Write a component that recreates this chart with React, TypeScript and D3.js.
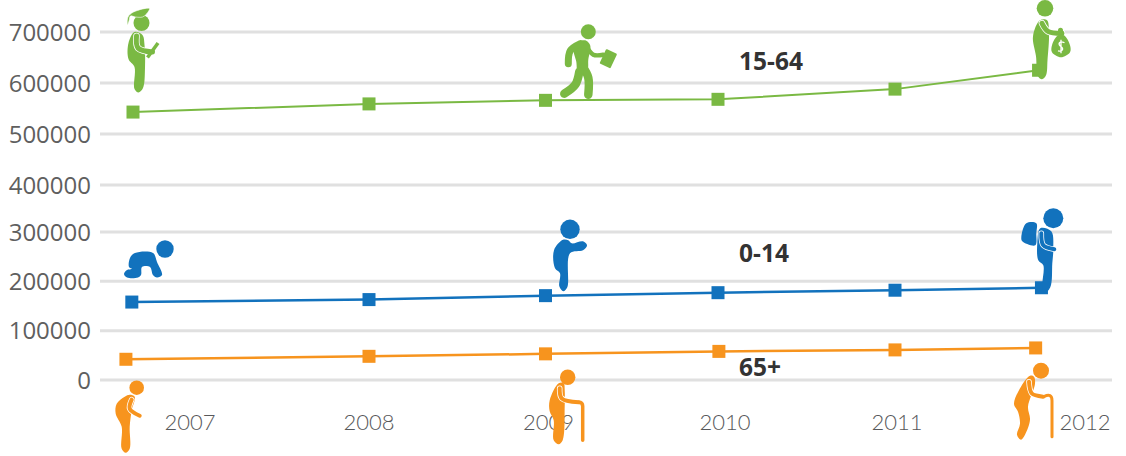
import * as d3 from "d3";

const years = [2007, 2008, 2009, 2010, 2011, 2012];
const yTicks = [0, 100000, 200000, 300000, 400000, 500000, 600000, 700000];

// the markers do not sit on quite the same x in each series, so each one keeps its own year readings
const greenYears = [2007, 2008, 2009, 2010, 2011, 2011.99];
const blueYears = [2006.995, 2008, 2009, 2010, 2011, 2012.01];
const orangeYears = [2006.97, 2008, 2009, 2010.005, 2011, 2011.97];

const greenValues = [543000, 559000, 566000, 568000, 588000, 625000];
const blueValues = [158000, 163000, 171000, 177000, 182000, 187000];
const orangeValues = [42000, 48000, 53000, 58000, 61000, 65000];

const seriesLabels = ["15-64", "0-14", "65+"];

const GREEN = "#7ab943";
const BLUE = "#1272bd";
const ORANGE = "#f7941e";

const width = 1126;
const height = 456;

const x = d3.scaleLinear().domain(years).range([133, 369, 545.5, 718, 895, 1040]);
const y = d3
  .scaleLinear()
  .domain([0, 300000, 400000, 700000])
  .range([380, 232, 185, 32]);

const labelNudge = [57, 0, 3, 7, 2, 45];
const seriesLabelY = [70, 262, 376];

type Pt = [number, number];

const blob = d3
  .line<Pt>()
  .curve(d3.curveCatmullRomClosed.alpha(0.5));
const stroke = d3.line<Pt>().curve(d3.curveCatmullRom.alpha(0.5));

function Limb({ pts, color, w = 5 }: { pts: Pt[]; color: string; w?: number }) {
  return (
    <>
      <path d={stroke(pts) ?? undefined} fill="none" stroke="#fff" strokeWidth={w + 1.6} strokeLinecap="round" />
      <path d={stroke(pts) ?? undefined} fill="none" stroke={color} strokeWidth={w} strokeLinecap="round" />
    </>
  );
}

function Graduate({ at }: { at: Pt }) {
  const c = GREEN;
  const body: Pt[] = [[-7, 9], [-13, 20], [-13, 36], [-7, 44], [-7, 66], [-3, 69.5], [1.5, 65], [3.5, 45], [3, 22], [1, 12]];
  const cap: Pt[] = [[-14, 2], [-13.5, -6], [-8, -11], [8, -14.5], [5, -9], [1, -6], [-6, -6], [-11, -7], [-12.5, -2]];
  return (
    <g transform={`translate(${at})`}>
      <path d={blob(body) ?? undefined} fill={c} />
      <Limb pts={[[-5, 13], [-3.5, 25], [11, 29]]} color={c} />
      <line x1={6} y1={34.5} x2={16.5} y2={20} stroke={c} strokeWidth={3.5} />
      <circle r={8} fill={c} />
      <path d={blob(cap) ?? undefined} fill={c} stroke="#fff" strokeWidth={0.6} />
    </g>
  );
}

function Walker({ at }: { at: Pt }) {
  const c = GREEN;
  const torso: Pt[] = [[-7, 9], [-15, 14], [-12, 30], [-10, 42], [-1, 38], [0, 28], [2, 14], [-2, 9]];
  return (
    <g transform={`translate(${at})`}>
      <circle r={7.5} fill={c} />
      <path d={blob(torso) ?? undefined} fill={c} />
      <path d={stroke([[-8, 12], [-18, 19], [-20, 32]]) ?? undefined} fill="none" stroke={c} strokeWidth={7} strokeLinecap="round" />
      <path d={stroke([[-5, 36], [0, 46], [0, 63]]) ?? undefined} fill="none" stroke={c} strokeWidth={8.5} strokeLinecap="round" />
      <path d={stroke([[-9, 40], [-13, 53], [-24, 62]]) ?? undefined} fill="none" stroke={c} strokeWidth={8.5} strokeLinecap="round" />
      <path d={stroke([[-2, 14], [5, 23], [15, 23]]) ?? undefined} fill="none" stroke={c} strokeWidth={4.5} strokeLinecap="round" />
      <rect x={-6} y={-8} width={12} height={16} transform="translate(20 27) rotate(25)" fill={c} rx={1} />
    </g>
  );
}

function MoneyBag({ at }: { at: Pt }) {
  const c = GREEN;
  const body: Pt[] = [[-5, 12], [-12, 28], [-9, 48], [-7, 68], [-3, 71], [1, 67], [2.5, 52], [4, 25], [2, 12]];
  const bag: Pt[] = [[13, 27], [7, 37], [7, 44], [16, 49], [25, 44], [25, 37], [19, 27]];
  return (
    <g transform={`translate(${at})`}>
      <circle r={8.3} fill={c} />
      <path d={blob(body) ?? undefined} fill={c} />
      <Limb pts={[[-3, 15], [3, 23], [17, 25]]} color={c} />
      <circle cx={15.5} cy={22} r={2.5} fill={c} />
      <path d={blob(bag) ?? undefined} fill={c} />
      <path d="M19.5 34.5 C15 32 12.5 35 15.5 38 C19 40 18 44 13 42.5 M16 31.5 L16 45" fill="none" stroke="#fff" strokeWidth={1.3} />
    </g>
  );
}

function Crawler({ at }: { at: Pt }) {
  const c = BLUE;
  const body: Pt[] = [[-36, 18], [-35, 9], [-30, 4], [-12, 4], [-8, 13], [-3, 26], [-8, 28.5], [-12, 26], [-15, 18], [-23, 18], [-24, 26], [-27, 28.5], [-38, 28.5], [-41, 25], [-38, 21], [-33, 20]];
  return (
    <g transform={`translate(${at})`}>
      <circle r={8.7} fill={c} />
      <path d={blob(body) ?? undefined} fill={c} />
    </g>
  );
}

function Toddler({ at }: { at: Pt }) {
  const c = BLUE;
  const body: Pt[] = [[-7, 10.5], [-16, 21], [-15, 39], [-10, 44], [-10.7, 57], [-6.7, 62], [-2.7, 58], [0, 24], [13, 21], [17, 16], [13, 12], [1.7, 14], [-1.7, 11]];
  return (
    <g transform={`translate(${at})`}>
      <circle r={9.7} fill={c} />
      <path d={blob(body) ?? undefined} fill={c} />
    </g>
  );
}

function Backpacker({ at }: { at: Pt }) {
  const c = BLUE;
  const body: Pt[] = [[-13, 10], [-16, 25], [-15, 42], [-10, 47], [-11, 68], [-9, 75], [-3, 69], [-1, 45], [0, 30], [-2, 13]];
  const pack: Pt[] = [[-27, 5], [-17, 5], [-17, 15], [-18, 27], [-31, 23], [-32, 19]];
  return (
    <g transform={`translate(${at})`}>
      <circle r={10} fill={c} />
      <path d={blob(pack) ?? undefined} fill={c} />
      <path d={blob(body) ?? undefined} fill={c} />
      <Limb pts={[[-12, 15], [-10, 27], [1, 31]]} color={c} w={4} />
    </g>
  );
}

function Elder1({ at }: { at: Pt }) {
  const c = ORANGE;
  const body: Pt[] = [[-12, 9], [-20, 16], [-21, 26], [-15, 39], [-15, 61], [-11, 65], [-7, 61], [-7, 39], [-5, 23], [-2, 9], [-7, 7]];
  return (
    <g transform={`translate(${at})`}>
      <circle r={7.3} fill={c} />
      <path d={blob(body) ?? undefined} fill={c} />
      <Limb pts={[[-5, 12], [-7, 21], [3, 28]]} color={c} w={4} />
    </g>
  );
}

function Elder2({ at }: { at: Pt }) {
  const c = ORANGE;
  const body: Pt[] = [[-9, 6], [-18, 23], [-18, 34], [-14, 43], [-14, 63], [-9, 67], [-5, 63], [-3, 29], [-3, 13], [-4, 6]];
  return (
    <g transform={`translate(${at})`}>
      <circle r={7.7} fill={c} />
      <path d={blob(body) ?? undefined} fill={c} />
      <Limb pts={[[-8, 11], [-6, 21], [11, 25]]} color={c} w={4} />
      <path d="M11 25 Q15 25 15 29 L15 63" fill="none" stroke={c} strokeWidth={3.5} strokeLinecap="round" />
    </g>
  );
}

function Elder3({ at }: { at: Pt }) {
  const c = ORANGE;
  const body: Pt[] = [[-11, 5], [-20, 16], [-27, 33], [-23, 41], [-21, 53], [-24, 64], [-20, 69], [-16, 64], [-11, 49], [-13, 36], [-6, 13], [-7, 6]];
  return (
    <g transform={`translate(${at})`}>
      <circle r={8} fill={c} />
      <path d={blob(body) ?? undefined} fill={c} />
      <Limb pts={[[-12, 11], [-9, 23], [2, 26]]} color={c} w={4} />
      <path d="M3 26 Q11 22 11 30 L11 66" fill="none" stroke={c} strokeWidth={3} strokeLinecap="round" />
    </g>
  );
}

function Series({ ys, vs, color, w }: { ys: number[]; vs: number[]; color: string; w: number }) {
  const pts = ys.map((yr, i) => [x(yr), y(vs[i])] as Pt);
  const line = d3.line<Pt>();
  return (
    <g>
      <path d={line(pts) ?? undefined} fill="none" stroke={color} strokeWidth={w} />
      {pts.map(([px, py], i) => (
        <rect key={i} x={px - 6.5} y={py - 6.5} width={13} height={13} fill={color} />
      ))}
    </g>
  );
}

export default function App() {
  return (
    <svg
      width={width}
      height={height}
      style={{ position: "fixed", left: 0, top: 0, background: "#fff" }}
    >
      {yTicks.map((t) => (
        <g key={t}>
          <line x1={100} x2={1112} y1={y(t)} y2={y(t)} stroke="#e0e0e0" strokeWidth={3} />
          <text
            x={91}
            y={y(t) + 8.5}
            textAnchor="end"
            fontFamily="'Open Sans'"
            fontSize={24}
            fill="#5f5f5f"
          >
            {t}
          </text>
        </g>
      ))}
      {years.map((yr, i) => (
        <text
          key={yr}
          x={x(yr) + labelNudge[i]}
          y={430}
          textAnchor="middle"
          fontFamily="Lato"
          fontWeight={300}
          fontSize={22}
          fill="#58595b"
        >
          {yr}
        </text>
      ))}
      <Series ys={greenYears} vs={greenValues} color={GREEN} w={2} />
      <Series ys={blueYears} vs={blueValues} color={BLUE} w={2.5} />
      <Series ys={orangeYears} vs={orangeValues} color={ORANGE} w={2.5} />

      {seriesLabels.map((label, i) => (
        <text
          key={label}
          x={739}
          y={seriesLabelY[i]}
          fontFamily="'Open Sans'"
          fontWeight={700}
          fontSize={24.5}
          fill="#333"
        >
          {label}
        </text>
      ))}

      <Graduate at={[141.5, 23]} />
      <Walker at={[588.3, 31.7]} />
      <MoneyBag at={[1045, 8.3]} />
      <Crawler at={[165, 249]} />
      <Toddler at={[570, 229.3]} />
      <Backpacker at={[1053.3, 218.3]} />
      <Elder1 at={[136.7, 387.7]} />
      <Elder2 at={[567.7, 377.3]} />
      <Elder3 at={[1041, 370.7]} />
    </svg>
  );
}
